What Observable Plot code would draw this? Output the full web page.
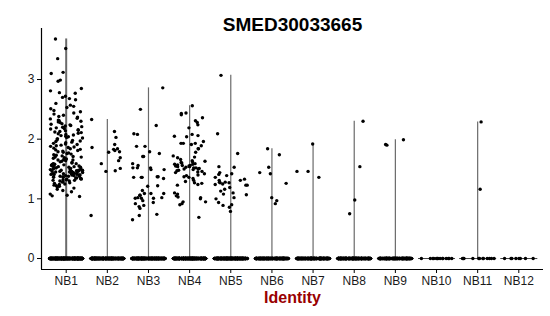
<!DOCTYPE html>
<html><head><meta charset="utf-8">
<script src="https://cdn.jsdelivr.net/npm/d3@7"></script>
<script src="https://cdn.jsdelivr.net/npm/@observablehq/plot@0.6"></script>
<style>
body{margin:0;background:#fff;font-family:"Liberation Sans",Arial,sans-serif}
</style>
</head><body><div id="chart"></div>
<script>
const title = "SMED30033665";
const xLabel = "Identity";
const groups = ["NB1","NB2","NB3","NB4","NB5","NB6","NB7","NB8","NB9","NB10","NB11","NB12"];
const yTicks = [0, 1, 2, 3];

// non-zero expression values per identity
const nb1 = [3.68,3.52,3.35,3.12,3.10,2.99,2.97,2.85,2.81,2.78,2.77,2.72,2.70,2.68,2.66,2.60,2.57,2.55,2.53,2.51,
  2.48,2.46,2.44,2.42,2.40,2.38,2.37,2.35,2.34,2.32,2.31,2.30,2.29,2.28,2.26,2.25,2.24,2.23,2.22,2.21,
  2.20,2.19,2.18,2.17,2.16,2.15,2.14,2.13,2.12,2.11,2.10,2.09,2.08,2.07,2.06,2.05,2.04,2.03,2.02,2.01,
  1.99,1.98,1.97,1.96,1.95,1.94,1.93,1.92,1.91,1.90,1.89,1.88,1.87,1.86,1.85,1.84,1.83,1.82,1.81,1.80,
  1.79,1.78,1.77,1.76,1.75,1.74,1.73,1.72,1.71,1.70,1.70,1.69,1.68,1.67,1.66,1.65,1.65,1.64,1.63,1.62,1.61,1.60,
  1.59,1.59,1.58,1.58,1.57,1.57,1.56,1.56,1.55,1.55,1.54,1.54,1.53,1.53,1.52,1.52,1.51,1.51,1.50,1.50,
  1.49,1.49,1.48,1.48,1.47,1.47,1.46,1.46,1.45,1.45,1.44,1.44,1.43,1.43,1.42,1.42,1.41,1.41,1.40,1.40,
  1.39,1.39,1.38,1.38,1.37,1.37,1.36,1.36,1.35,1.35,1.34,1.34,1.33,1.33,1.32,1.32,1.31,1.31,1.30,1.30,
  1.48,1.45,1.43,1.41,1.38,1.46,1.42,1.47,1.44,1.40,
  1.29,1.28,1.27,1.26,1.25,1.24,1.23,1.22,1.21,1.20,1.18,1.16,1.14,1.12,1.08,1.06,1.05,1.04];
const nb2 = [2.33,2.03,1.91,1.79,1.78,1.64,1.59,1.46,1.47,1.51,0.72,1.86,1.83,1.84,1.81,2.13,1.69];
const nb3 = [2.86,2.50,2.23,2.09,2.08,1.88,1.88,1.79,1.76,1.71,1.71,1.56,1.59,1.52,1.49,1.49,1.52,1.52,
  1.36,1.36,1.34,1.37,1.37,1.36,1.14,1.09,1.06,1.01,1.02,1.22,1.21,1.09,1.09,1.06,1.01,0.94,0.97,0.92,
  1.01,1.02,0.89,0.87,0.84,0.72,0.65,0.74];
const nb4 = [2.56,2.43,2.41,2.44,2.31,2.36,2.28,2.24,2.19,2.08,2.04,2.06,2.05,1.96,1.93,1.93,1.89,1.91,1.93,
  1.84,1.84,1.78,1.69,1.72,1.70,1.66,1.64,1.63,1.62,1.61,1.60,1.59,1.58,1.58,1.57,1.56,1.56,1.55,1.55,
  1.54,1.54,1.53,1.52,1.52,1.51,1.50,1.50,1.49,1.48,1.47,1.46,1.45,1.44,1.42,1.40,1.39,1.37,1.36,1.34,
  1.31,1.29,1.27,1.26,1.24,1.23,1.10,1.08,1.05,1.03,1.02,1.00,0.95,0.95,0.92,0.90,0.69];
const nb5 = [3.07,2.09,1.76,1.53,1.42,1.44,1.41,1.39,1.31,1.31,1.33,1.28,1.28,1.27,1.25,1.27,1.36,1.19,
  1.16,1.13,1.08,1.07,1.10,1.00,1.02,0.94,0.90,0.89,0.86,0.79,1.23,1.23,1.24,1.54];
const nb6 = [1.84,1.74,1.53,1.44,1.42,1.26,1.02,0.97,0.92];
const nb7 = [1.92,1.46,1.36,1.46];
const nb8 = [2.30,1.54,0.98,0.75];
const nb9 = [1.99,1.90,1.91];
const nb10 = [];
const nb11 = [2.29,1.16];
const nb12 = [];
const nonZero = [nb1,nb2,nb3,nb4,nb5,nb6,nb7,nb8,nb9,nb10,nb11,nb12];
// number of cells with zero expression per identity (estimated)
const zeroCounts = [320,260,260,260,260,200,200,200,160,14,12,8];

// jittered points (seeded jitter, as geom_jitter does)
const jit = d3.randomUniform.source(d3.randomLcg(7))(-0.4, 0.4);
const cells = [];
nonZero.forEach((vals, i) => {
  for (let k = 0; k < zeroCounts[i]; k++) cells.push({g: i + 1, v: 0, x: i + 1 + jit()});
  vals.forEach(v => cells.push({g: i + 1, v, x: i + 1 + jit()}));
});
const violins = nonZero.map((vals, i) => ({g: i + 1, max: vals.length ? d3.max(vals) : 0, w: i === 0 ? 2 : 1.2}))
  .filter(d => d.max > 0);
const centers = groups.map((d, i) => i + 1);

const yMin = -0.184, yMax = 3.855;
const chart = Plot.plot({
  width: 550, height: 316,
  marginLeft: 41, marginRight: 7, marginTop: 28, marginBottom: 47,
  style: {fontSize: "12px", fontFamily: "'Liberation Sans', Arial, sans-serif", color: "#1a1a1a", background: "#fff"},
  x: {domain: [0.4, 12.6], label: null},
  y: {domain: [yMin, yMax], label: null},
  marks: [
    Plot.link(centers, {x1: d => d - 0.45, x2: d => d + 0.45, y1: 0, y2: 0, stroke: "#444", strokeWidth: 1}),
    Plot.ruleX(violins, {x: "g", y1: 0, y2: "max", stroke: "#6a6a6a", strokeWidth: "w"}),
    Plot.dot(cells, {x: "x", y: "v", r: 1.7, fill: "black", stroke: null}),
    Plot.ruleX([0.4], {stroke: "black", strokeWidth: 1.2}),
    Plot.ruleY([yMin], {stroke: "black", strokeWidth: 1.2}),
    Plot.axisX({ticks: centers, tickFormat: d => groups[d - 1], tickSize: 4, tickPadding: 3, stroke: "black"}),
    Plot.axisY({ticks: yTicks, tickFormat: d => String(d), tickSize: 4, tickPadding: 3, stroke: "black"}),
    Plot.text([title], {frameAnchor: "top", dy: -11, text: d => d, fontWeight: "bold", fontSize: 19, fill: "black"}),
    Plot.text([xLabel], {frameAnchor: "bottom", dy: 33, text: d => d, fontWeight: "bold", fontSize: 16, fill: "#990000"})
  ]
});
document.getElementById("chart").append(chart);
</script>
</body></html>
